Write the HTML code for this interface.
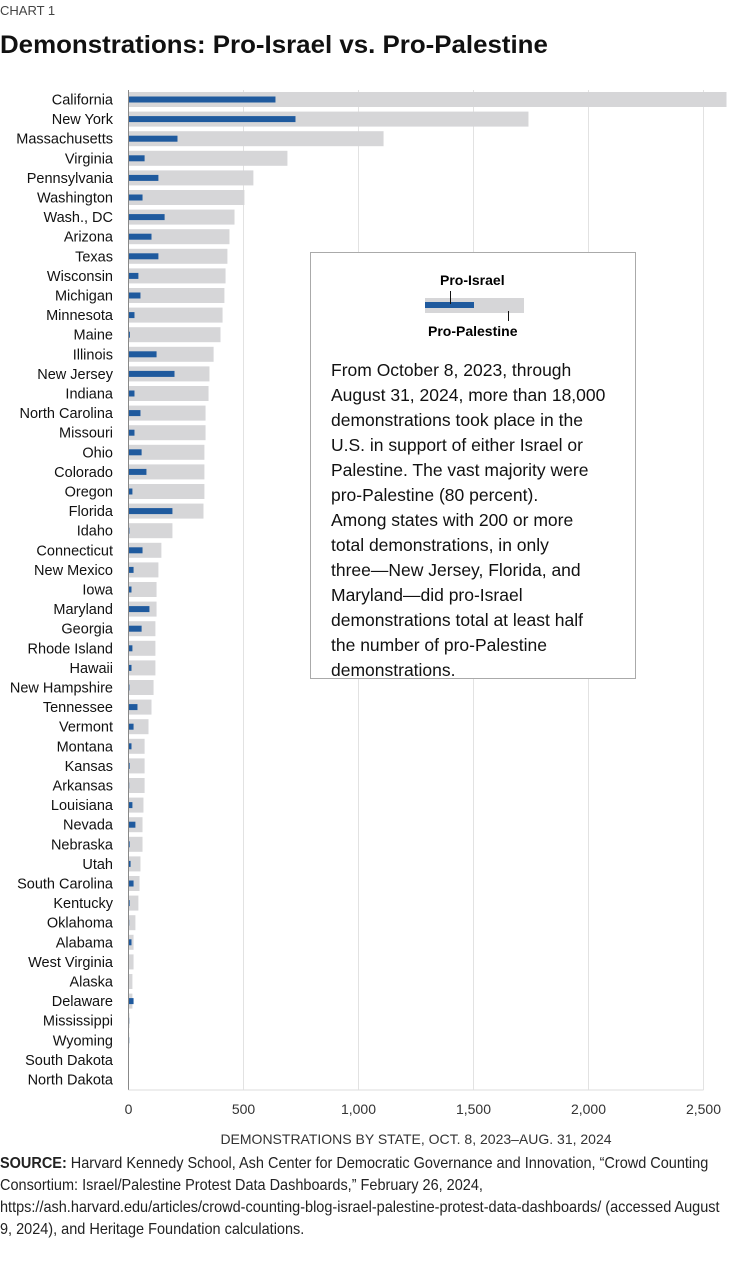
<!DOCTYPE html>
<html><head><meta charset="utf-8"><style>
body{margin:0;background:#fff;font-family:"Liberation Sans",sans-serif;}
#wrap{position:relative;width:734px;height:1267px;overflow:hidden;}
.ft{position:absolute;left:0;white-space:nowrap;font-size:16px;color:#222;transform:scaleX(0.905);transform-origin:left top;}
</style></head><body>
<div id="wrap">
<div style="position:absolute;left:0;top:3px;font-size:13px;color:#444;">CHART 1</div>
<div style="position:absolute;left:0;top:31px;font-size:25px;font-weight:bold;color:#111;transform:scaleX(1.035);transform-origin:left top;white-space:nowrap;">Demonstrations: Pro-Israel vs. Pro-Palestine</div>
<svg id="chart" width="734" height="1267" style="position:absolute;left:0;top:0"></svg>
<div style="position:absolute;left:310px;top:252px;width:326px;height:427px;border:1px solid #aaa;background:#fff;box-sizing:border-box;">
  <div style="position:absolute;left:129px;top:19px;font-size:14px;font-weight:bold;">Pro-Israel</div>
  <div style="position:absolute;left:114px;top:45px;width:99px;height:15px;background:#d6d6d8;"></div>
  <div style="position:absolute;left:114px;top:49px;width:49px;height:6px;background:#1f5a9e;"></div>
  <div style="position:absolute;left:139px;top:38px;width:1px;height:13px;background:#111;"></div>
  <div style="position:absolute;left:197px;top:58px;width:1px;height:10px;background:#111;"></div>
  <div style="position:absolute;left:117px;top:70px;font-size:14px;font-weight:bold;">Pro-Palestine</div>
  <div style="position:absolute;left:20px;top:105px;width:300px;font-size:17.5px;line-height:25px;color:#111;">From October 8, 2023, through<br>August 31, 2024, more than 18,000<br>demonstrations took place in the<br>U.S. in support of either Israel or<br>Palestine. The vast majority were<br>pro-Palestine (80 percent).<br>Among states with 200 or more<br>total demonstrations, in only<br>three—New Jersey, Florida, and<br>Maryland—did pro-Israel<br>demonstrations total at least half<br>the number of pro-Palestine<br>demonstrations.</div>
</div>
<div>
<div class="ft" style="top:1155px"><b>SOURCE:</b> Harvard Kennedy School, Ash Center for Democratic Governance and Innovation, “Crowd Counting</div>
<div class="ft" style="top:1177px">Consortium: Israel/Palestine Protest Data Dashboards,” February 26, 2024,</div>
<div class="ft" style="top:1199px">https://ash.harvard.edu/articles/crowd-counting-blog-israel-palestine-protest-data-dashboards/ (accessed August</div>
<div class="ft" style="top:1221px">9, 2024), and Heritage Foundation calculations.</div>
</div>
</div>
<script>
const states=["California","New York","Massachusetts","Virginia","Pennsylvania","Washington","Wash., DC","Arizona","Texas","Wisconsin","Michigan","Minnesota","Maine","Illinois","New Jersey","Indiana","North Carolina","Missouri","Ohio","Colorado","Oregon","Florida","Idaho","Connecticut","New Mexico","Iowa","Maryland","Georgia","Rhode Island","Hawaii","New Hampshire","Tennessee","Vermont","Montana","Kansas","Arkansas","Louisiana","Nevada","Nebraska","Utah","South Carolina","Kentucky","Oklahoma","Alabama","West Virginia","Alaska","Delaware","Mississippi","Wyoming","South Dakota","North Dakota"];
const proPalestine=[2600,1739,1109,691,543,504,461,439,430,422,417,409,400,370,352,348,335,335,330,330,330,326,191,143,130,122,122,117,117,117,109,100,87,70,70,70,65,61,61,52,48,43,30,22,22,17,17,4,3,2,1];
const proIsrael=[639,726,213,70,130,61,157,100,130,43,52,26,6,122,200,26,52,26,57,78,17,191,4,61,22,13,91,57,17,13,4,39,22,13,5,3,17,30,5,9,22,5,3,13,2,2,22,3,3,1,0];
const ticks=[0,500,1000,1500,2000,2500];
const tickLabels=["0","500","1,000","1,500","2,000","2,500"];
const svg=document.getElementById('chart');
const NS="http://www.w3.org/2000/svg";
const x0=128.5,kx=0.23;
const X=v=>x0+v*kx;
const Y=i=>99.5+i*19.6;
function mk(t,a){const e=document.createElementNS(NS,t);for(const k in a)e.setAttribute(k,a[k]);svg.appendChild(e);return e;}
ticks.forEach((t,i)=>{
  const g=mk('line',{x1:X(t),x2:X(t),y1:90,y2:1090,stroke:i==0?'#888':'#e2e2e2','stroke-width':1});
  
  
  const tl=mk('text',{x:X(t),y:1114,'text-anchor':'middle','font-size':14,fill:'#333','font-family':'Liberation Sans, sans-serif'});
  tl.textContent=tickLabels[i];
  
  
});
const ax=mk('line',{x1:x0,x2:X(2500),y1:1090,y2:1090,stroke:'#ddd','stroke-width':1});


const at=mk('text',{x:416,y:1144,'text-anchor':'middle','font-size':14,fill:'#333','font-family':'Liberation Sans, sans-serif'});
at.textContent="DEMONSTRATIONS BY STATE, OCT. 8, 2023–AUG. 31, 2024";


states.forEach((s,i)=>{
  const y=Y(i);
  const g=mk('rect',{x:x0+0.5,y:y-7.5,width:Math.max(0,X(proPalestine[i])-x0-0.5),height:15,fill:'#d6d6d8'});
  
  
  const b=mk('rect',{x:x0+0.5,y:y-3,width:Math.max(0,X(proIsrael[i])-x0-0.5),height:6,fill:'#1f5a9e'});
  
  
  const l=mk('text',{x:113,y:y+5,'text-anchor':'end','font-size':14.5,fill:'#111','font-family':'Liberation Sans, sans-serif'});
  l.textContent=s;
  
  
});
</script>
</body></html>
